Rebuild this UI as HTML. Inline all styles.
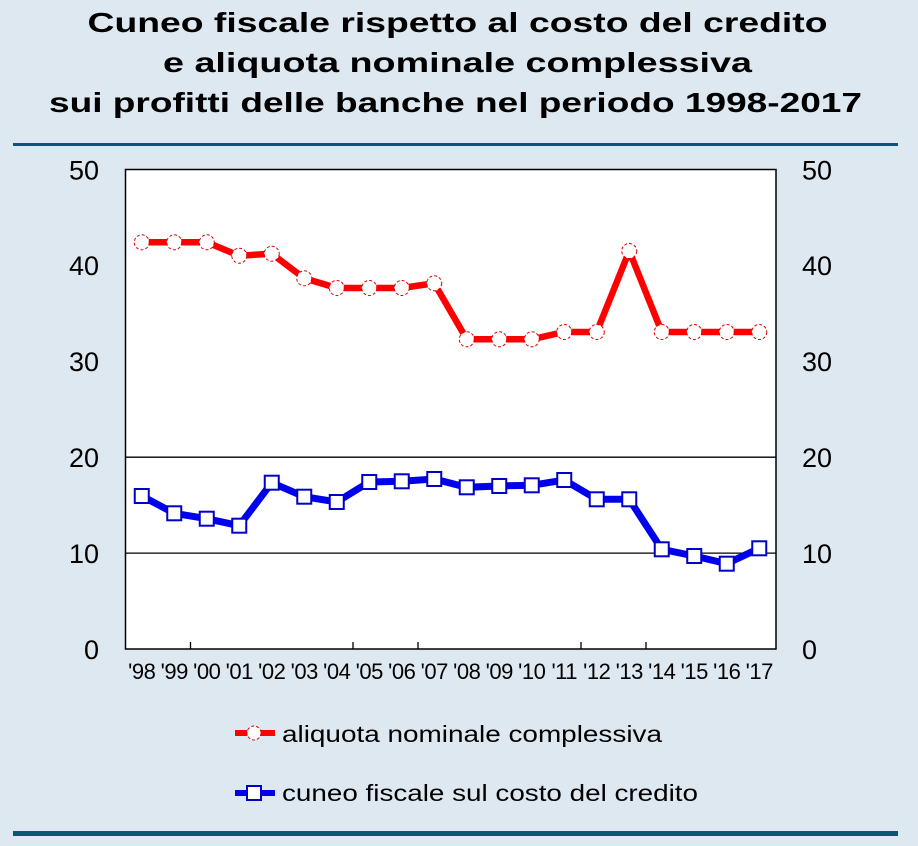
<!DOCTYPE html>
<html>
<head>
<meta charset="utf-8">
<style>
  html, body { margin: 0; padding: 0; background: #dde8f0; }
  svg { display: block; }
  text { font-family: "Liberation Sans", Arial, sans-serif; fill: #000; }
</style>
</head>
<body>
<svg width="918" height="846" viewBox="0 0 918 846" xmlns="http://www.w3.org/2000/svg">
  <rect x="0" y="0" width="918" height="846" fill="#dde8f0"/>

  <!-- Title -->
  <text x="457.5" y="32" font-size="28" font-weight="bold" text-anchor="middle" textLength="740" lengthAdjust="spacingAndGlyphs">Cuneo fiscale rispetto al costo del credito</text>
  <text x="457.5" y="72" font-size="28" font-weight="bold" text-anchor="middle" textLength="589" lengthAdjust="spacingAndGlyphs">e aliquota nominale complessiva</text>
  <text x="455.5" y="112" font-size="28" font-weight="bold" text-anchor="middle" textLength="813" lengthAdjust="spacingAndGlyphs">sui profitti delle banche nel periodo 1998-2017</text>

  <!-- Divider lines -->
  <rect x="13" y="143" width="885" height="3" fill="#0b5677"/>
  <rect x="13" y="831" width="885" height="5" fill="#0b5677"/>

  <!-- Plot area -->
  <rect x="125.5" y="169.5" width="650.5" height="479.5" fill="#ffffff" stroke="#000" stroke-width="1.5"/>
  <line x1="125.5" y1="553.1" x2="776" y2="553.1" stroke="#000" stroke-width="1.3"/>
  <line x1="125.5" y1="457.2" x2="776" y2="457.2" stroke="#000" stroke-width="1.3"/>

  <!-- x ticks -->
  <g stroke="#000" stroke-width="1.3">
    <line x1="190.5" y1="649" x2="190.5" y2="642"/>
    <line x1="353" y1="649" x2="353" y2="642"/>
    <line x1="418" y1="649" x2="418" y2="642"/>
    <line x1="581" y1="649" x2="581" y2="642"/>
    <line x1="646" y1="649" x2="646" y2="642"/>
  </g>

  <!-- Left y labels -->
  <g font-size="27" text-anchor="end">
    <text x="99" y="659">0</text>
    <text x="99" y="563">10</text>
    <text x="99" y="467">20</text>
    <text x="99" y="371">30</text>
    <text x="99" y="275">40</text>
    <text x="99" y="179.5">50</text>
  </g>
  <!-- Right y labels -->
  <g font-size="27" text-anchor="start">
    <text x="802" y="659">0</text>
    <text x="802" y="563">10</text>
    <text x="802" y="467">20</text>
    <text x="802" y="371">30</text>
    <text x="802" y="275">40</text>
    <text x="802" y="179.5">50</text>
  </g>

  <!-- X labels -->
  <g font-size="22" text-anchor="middle" letter-spacing="-0.5">
    <text x="141.75" y="679">'98</text>
    <text x="174.25" y="679">'99</text>
    <text x="206.75" y="679">'00</text>
    <text x="239.25" y="679">'01</text>
    <text x="271.75" y="679">'02</text>
    <text x="304.25" y="679">'03</text>
    <text x="336.75" y="679">'04</text>
    <text x="369.25" y="679">'05</text>
    <text x="401.75" y="679">'06</text>
    <text x="434.25" y="679">'07</text>
    <text x="466.75" y="679">'08</text>
    <text x="499.25" y="679">'09</text>
    <text x="531.75" y="679">'10</text>
    <text x="564.25" y="679">'11</text>
    <text x="596.75" y="679">'12</text>
    <text x="629.25" y="679">'13</text>
    <text x="661.75" y="679">'14</text>
    <text x="694.25" y="679">'15</text>
    <text x="726.75" y="679">'16</text>
    <text x="759.25" y="679">'17</text>
  </g>

  <!-- Red series -->
  <polyline fill="none" stroke="#ff0000" stroke-width="6.5" stroke-linejoin="miter"
    points="141.75,242.3 174.25,242.3 206.75,242.3 239.25,255.7 271.75,253.7 304.25,278.3 336.75,288 369.25,288 401.75,288 434.25,283.3 466.75,339.3 499.25,339.3 531.75,339.3 564.25,332 596.75,332 629.25,251 661.75,332 694.25,332 726.75,332 759.25,332"/>
  <g fill="#ffffff" stroke="#e00000" stroke-width="1" stroke-dasharray="3,2">
    <circle cx="141.75" cy="242.3" r="7.5"/>
    <circle cx="174.25" cy="242.3" r="7.5"/>
    <circle cx="206.75" cy="242.3" r="7.5"/>
    <circle cx="239.25" cy="255.7" r="7.5"/>
    <circle cx="271.75" cy="253.7" r="7.5"/>
    <circle cx="304.25" cy="278.3" r="7.5"/>
    <circle cx="336.75" cy="288" r="7.5"/>
    <circle cx="369.25" cy="288" r="7.5"/>
    <circle cx="401.75" cy="288" r="7.5"/>
    <circle cx="434.25" cy="283.3" r="7.5"/>
    <circle cx="466.75" cy="339.3" r="7.5"/>
    <circle cx="499.25" cy="339.3" r="7.5"/>
    <circle cx="531.75" cy="339.3" r="7.5"/>
    <circle cx="564.25" cy="332" r="7.5"/>
    <circle cx="596.75" cy="332" r="7.5"/>
    <circle cx="629.25" cy="251" r="7.5"/>
    <circle cx="661.75" cy="332" r="7.5"/>
    <circle cx="694.25" cy="332" r="7.5"/>
    <circle cx="726.75" cy="332" r="7.5"/>
    <circle cx="759.25" cy="332" r="7.5"/>
  </g>

  <!-- Blue series -->
  <polyline fill="none" stroke="#0000ee" stroke-width="7" stroke-linejoin="miter"
    points="141.75,496 174.25,513.3 206.75,518.7 239.25,525.7 271.75,482.7 304.25,496.7 336.75,502 369.25,482 401.75,481.3 434.25,479 466.75,487.3 499.25,486 531.75,485.3 564.25,480 596.75,499.3 629.25,499.3 661.75,549.3 694.25,556 726.75,563.7 759.25,548.3"/>
  <g fill="#ffffff" stroke="#0000c8" stroke-width="2">
    <rect x="134.75" y="489" width="14" height="14"/>
    <rect x="167.25" y="506.3" width="14" height="14"/>
    <rect x="199.75" y="511.7" width="14" height="14"/>
    <rect x="232.25" y="518.7" width="14" height="14"/>
    <rect x="264.75" y="475.7" width="14" height="14"/>
    <rect x="297.25" y="489.7" width="14" height="14"/>
    <rect x="329.75" y="495" width="14" height="14"/>
    <rect x="362.25" y="475" width="14" height="14"/>
    <rect x="394.75" y="474.3" width="14" height="14"/>
    <rect x="427.25" y="472" width="14" height="14"/>
    <rect x="459.75" y="480.3" width="14" height="14"/>
    <rect x="492.25" y="479" width="14" height="14"/>
    <rect x="524.75" y="478.3" width="14" height="14"/>
    <rect x="557.25" y="473" width="14" height="14"/>
    <rect x="589.75" y="492.3" width="14" height="14"/>
    <rect x="622.25" y="492.3" width="14" height="14"/>
    <rect x="654.75" y="542.3" width="14" height="14"/>
    <rect x="687.25" y="549" width="14" height="14"/>
    <rect x="719.75" y="556.7" width="14" height="14"/>
    <rect x="752.25" y="541.3" width="14" height="14"/>
  </g>

  <!-- Legend -->
  <line x1="235" y1="733" x2="275" y2="733" stroke="#ff0000" stroke-width="6"/>
  <circle cx="254" cy="733" r="7" fill="#ffffff" stroke="#e00000" stroke-width="1" stroke-dasharray="3,2"/>
  <text x="282" y="742" font-size="23.5" textLength="380" lengthAdjust="spacingAndGlyphs">aliquota nominale complessiva</text>

  <line x1="235" y1="793" x2="275" y2="793" stroke="#0000ee" stroke-width="6"/>
  <rect x="247" y="786" width="14" height="14" fill="#ffffff" stroke="#0000c8" stroke-width="2"/>
  <text x="282" y="801" font-size="23.5" textLength="416" lengthAdjust="spacingAndGlyphs">cuneo fiscale sul costo del credito</text>
</svg>
</body>
</html>
